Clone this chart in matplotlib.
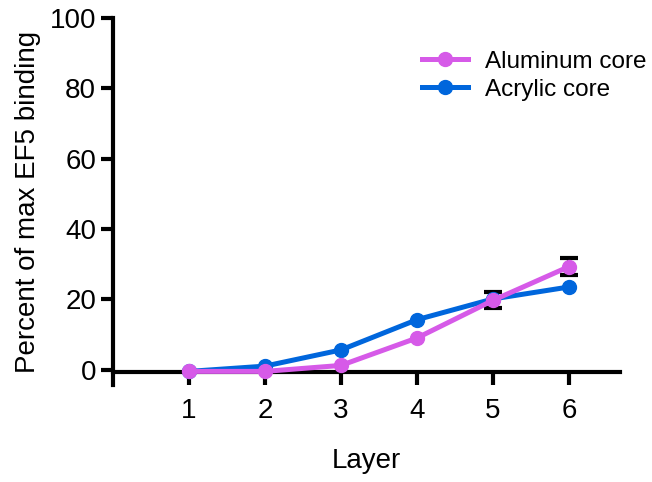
import numpy as np
import matplotlib
matplotlib.use("Agg")
import matplotlib.pyplot as plt

plt.rcParams['font.family'] = ['Liberation Sans', 'DejaVu Sans']

# ── Data ──────────────────────────────────────────────────────────
layers = [1, 2, 3, 4, 5, 6]
aluminum = [-0.5, -0.5, 1.2, 9.0, 19.7, 29.3]
aluminum_err = [0, 0, 0, 0, 2.3, 2.5]
acrylic = [-0.5, 1.0, 5.6, 14.2, 20.1, 23.5]
yticks = [0, 20, 40, 60, 80, 100]

col_al = "#D65AE8"
col_ac = "#0066DC"

fig = plt.figure(figsize=(6.52, 4.82), dpi=100)
ax = fig.add_axes([0.173, 0.201, 0.778, 0.762])

# error bars only where there is an error, behind the lines
x = np.array(layers)
y = np.array(aluminum)
e = np.array(aluminum_err)
m = e > 0
ax.errorbar(x[m], y[m], yerr=e[m], fmt="none", ecolor="black",
            elinewidth=3, capsize=6.5, capthick=3, zorder=1)
ax.plot(layers, acrylic, color=col_ac, linewidth=3.6, marker="o", markersize=10,
        label="Acrylic core", zorder=2)
ax.plot(layers, aluminum, color=col_al, linewidth=3.6, marker="o", markersize=10,
        label="Aluminum core", zorder=3)

ax.set_xlim(0, 6.67)
ax.set_ylim(-4.4, 100)
ax.set_xticks(layers)
ax.set_yticks(yticks)

ax.spines["top"].set_visible(False)
ax.spines["right"].set_visible(False)
ax.spines["left"].set_linewidth(3)
ax.spines["bottom"].set_linewidth(3)
ax.spines["bottom"].set_position(("data", -0.7))
ax.spines["left"].set_bounds(-4.4, 100)
ax.tick_params(axis="both", direction="out", length=9, width=3, labelsize=20)
ax.tick_params(axis="x", pad=10)
ax.tick_params(axis="y", pad=3)

ax.set_xlabel("Layer", fontsize=20, labelpad=17)
ax.set_ylabel("Percent of max EF5 binding", fontsize=20, labelpad=6)

handles, labels = ax.get_legend_handles_labels()
ax.legend(handles[::-1], labels[::-1], loc="upper right", frameon=False,
          fontsize=17.5, handlelength=1.9, handletextpad=0.7, labelspacing=0.25,
          bbox_to_anchor=(1.095, 0.97))

fig.savefig("out.png", dpi=100)
